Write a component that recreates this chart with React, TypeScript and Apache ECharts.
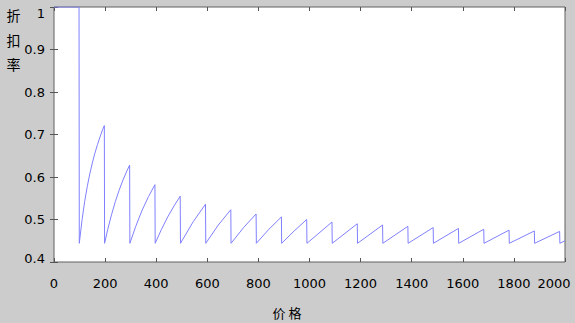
import React, { useEffect, useRef } from "react";
import * as echarts from "echarts";

// 价格 (price) sample points
const prices = [
  0, 98,
  99, 110, 120, 130, 140, 150, 160, 170, 180, 190, 197,
  198, 210, 225, 240, 255, 270, 285, 296,
  297, 320, 345, 370, 395,
  396, 420, 445, 470, 494,
  495, 545, 593,
  594, 643, 692,
  693, 742, 791,
  792, 841, 890,
  891, 940, 989,
  990, 1088,
  1089, 1187,
  1188, 1286,
  1287, 1385,
  1386, 1484,
  1485, 1583,
  1584, 1682,
  1683, 1781,
  1782, 1880,
  1881, 1979,
  1980, 2000,
];

// 折扣率 (discount rate) at each price above
const rates = [
  1, 1,
  0.444, 0.5, 0.542, 0.577, 0.607, 0.633, 0.656, 0.676, 0.694, 0.711, 0.721,
  0.444, 0.476, 0.511, 0.542, 0.569, 0.593, 0.614, 0.628,
  0.444, 0.484, 0.522, 0.554, 0.582,
  0.444, 0.476, 0.506, 0.532, 0.555,
  0.444, 0.495, 0.536,
  0.444, 0.487, 0.523,
  0.444, 0.481, 0.513,
  0.444, 0.477, 0.506,
  0.444, 0.473, 0.5,
  0.444, 0.494,
  0.444, 0.49,
  0.444, 0.487,
  0.444, 0.484,
  0.444, 0.481,
  0.444, 0.479,
  0.444, 0.477,
  0.444, 0.475,
  0.444, 0.473,
  0.444, 0.472,
  0.444, 0.45,
];

const xMin = 0;
const xMax = 2000;
const xStep = 200;
const yMin = 0.4;
const yMax = 1;
const yStep = 0.1;

const yTitleChars = ["折", "扣", "率"];
const xTitle = "价 格";

export default function App() {
  const ref = useRef<HTMLDivElement>(null);

  useEffect(() => {
    if (!ref.current) return;
    const chart = echarts.init(ref.current, undefined, { renderer: "svg" });
    const data = prices.map((p, i) => [p, rates[i]]);
    const tickCol = "#555555";
    const labelFont = "DejaVu Sans";
    const cjkFont = "Noto Sans CJK SC";

    chart.setOption({
      animation: false,
      backgroundColor: "#cccccc",
      grid: {
        left: 54,
        top: 7,
        right: 10,
        bottom: 61,
        show: true,
        backgroundColor: "#ffffff",
        borderColor: "#606060",
        borderWidth: 1,
      },
      xAxis: [
        {
          type: "value",
          min: xMin,
          max: xMax,
          interval: xStep,
          axisLine: { show: false },
          splitLine: { show: false },
          axisTick: { show: true, inside: true, length: 4, lineStyle: { color: tickCol } },
          axisLabel: {
            color: "#000",
            fontFamily: labelFont,
            fontSize: 13,
            margin: 15,
            formatter: (v: number) => (v === xMax ? "{r|" + v + "}" : String(v)),
            rich: { r: { padding: [0, 22, 0, 0], fontFamily: labelFont, fontSize: 13, color: "#000" } },
          },
        },
        {
          type: "value",
          position: "top",
          min: xMin,
          max: xMax,
          interval: xStep,
          axisLine: { show: false },
          splitLine: { show: false },
          axisTick: { show: true, inside: true, length: 4, lineStyle: { color: tickCol } },
          axisLabel: { show: false },
        },
      ],
      yAxis: [
        {
          type: "value",
          min: yMin,
          max: yMax,
          interval: yStep,
          axisLine: { show: false },
          splitLine: { show: false },
          axisTick: { show: true, inside: true, length: 4, lineStyle: { color: tickCol } },
          axisLabel: {
            color: "#000",
            fontFamily: labelFont,
            fontSize: 13,
            margin: 9,
            verticalAlignMaxLabel: "top",
            formatter: (v: number) => {
              const s = String(+v.toFixed(1));
              return Math.abs(v - yMin) < 1e-9 ? "{m|" + s + "}" : s;
            },
            rich: { m: { padding: [0, 0, 8, 0], fontFamily: labelFont, fontSize: 13, color: "#000" } },
          },
        },
        {
          type: "value",
          position: "right",
          min: yMin,
          max: yMax,
          interval: yStep,
          axisLine: { show: false },
          splitLine: { show: false },
          axisTick: { show: true, inside: true, length: 4, lineStyle: { color: tickCol } },
          axisLabel: { show: false },
        },
      ],
      graphic: [
        ...yTitleChars.map((c, i) => ({
          type: "text",
          x: 13.5,
          y: [14.7, 40, 64][i],
          style: {
            text: c,
            fontFamily: cjkFont,
            fontSize: 14,
            fill: "#000",
            align: "center",
            verticalAlign: "middle",
          },
        })),
        {
          type: "text",
          x: 287,
          y: 312,
          style: {
            text: xTitle,
            fontFamily: cjkFont,
            fontSize: 13,
            fill: "#000",
            align: "center",
            verticalAlign: "middle",
          },
        },
      ],
      series: [
        {
          type: "line",
          xAxisIndex: 0,
          yAxisIndex: 0,
          data,
          showSymbol: false,
          symbol: "none",
          lineStyle: { width: 1, color: "#8080ff" },
          itemStyle: { color: "#8080ff" },
          z: 3,
        },
      ],
    });

    return () => chart.dispose();
  }, []);

  return (
    <div
      ref={ref}
      style={{ position: "fixed", left: 0, top: 0, width: 575, height: 323 }}
    />
  );
}
